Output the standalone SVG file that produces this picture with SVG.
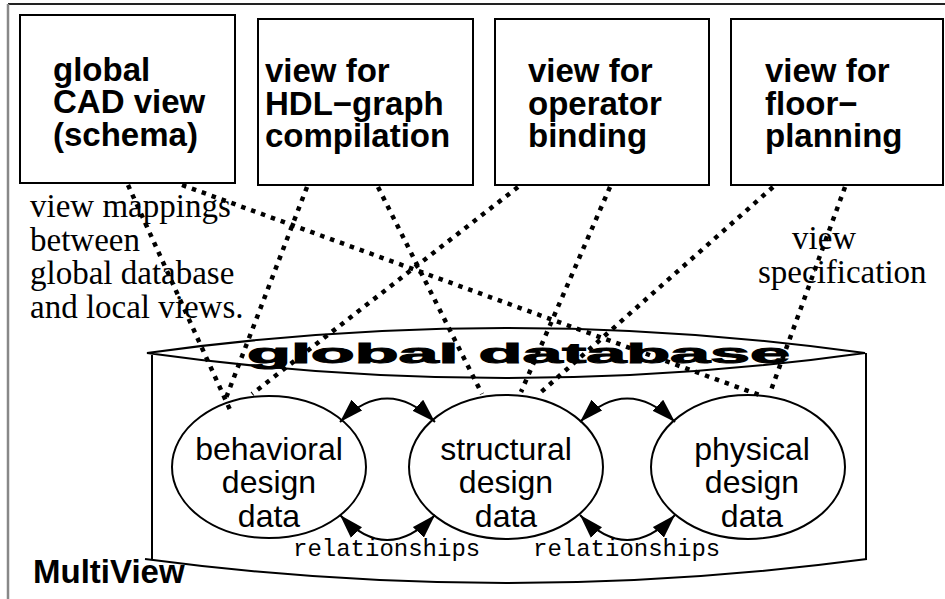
<svg xmlns="http://www.w3.org/2000/svg" width="945" height="599" viewBox="0 0 945 599">
<style>
.box{fill:#fff;stroke:#000;stroke-width:2}
.bt{font-family:"Liberation Sans",Arial,sans-serif;font-weight:bold;font-size:33px;fill:#000}
.et{font-family:"Liberation Sans",Arial,sans-serif;font-size:32px;fill:#000;text-anchor:middle}
.st{font-family:"Liberation Serif","Times New Roman",serif;font-size:33px;fill:#000}
.mt{font-family:"Liberation Mono","Courier New",monospace;font-size:24px;fill:#000}
.dot{fill:none;stroke:#000;stroke-width:4.5;stroke-dasharray:4.5 6}
.arc{fill:none;stroke:#000;stroke-width:2;marker-start:url(#ah);marker-end:url(#ah)}
.ell{fill:#fff;stroke:#000;stroke-width:2}
</style>
<defs>
<marker id="ah" markerUnits="userSpaceOnUse" markerWidth="24" markerHeight="16" viewBox="0 0 22 14" refX="22" refY="7" orient="auto-start-reverse"><path d="M0,0 L22,7 L0,14 Z" fill="#000"/></marker>
</defs>
<rect width="945" height="599" fill="#fff"/>
<g id="frame">
<line x1="8" y1="4" x2="945" y2="4" stroke="#222" stroke-width="2"/>
<line x1="8" y1="4" x2="8" y2="599" stroke="#888" stroke-width="2.5"/>
</g>
<g id="global-cad-view">
<rect class="box" x="20" y="15" width="215" height="168"/>
<text class="bt" x="53" y="81">global</text>
<text class="bt" x="53" y="113">CAD view</text>
<text class="bt" x="53" y="146">(schema)</text>
</g>
<g id="view-hdl">
<rect class="box" x="258" y="19" width="215" height="166"/>
<text class="bt" x="265" y="82">view for</text>
<text class="bt" x="265" y="115">HDL−graph</text>
<text class="bt" x="265" y="147">compilation</text>
</g>
<g id="view-operator">
<rect class="box" x="495" y="19" width="214" height="166"/>
<text class="bt" x="528" y="82">view for</text>
<text class="bt" x="528" y="115">operator</text>
<text class="bt" x="528" y="147">binding</text>
</g>
<g id="view-floor">
<rect class="box" x="731" y="19" width="212" height="166"/>
<text class="bt" x="765" y="82">view for</text>
<text class="bt" x="765" y="115">floor−</text>
<text class="bt" x="765" y="147">planning</text>
</g>
<g id="global-database">
<path d="M152,355 L152,559 M866,353 L866,560" fill="none" stroke="#000" stroke-width="2"/>
<path d="M145,559 Q506,607 867,559" fill="none" stroke="#000" stroke-width="2"/>
<path d="M147,353 Q506,303 865,353 Q506,403 147,353 Z" fill="#fff" stroke="#000" stroke-width="2"/>
<text x="247" y="363" font-family="'Liberation Sans',Arial,sans-serif" font-weight="bold" font-size="28" textLength="543" lengthAdjust="spacingAndGlyphs" stroke="#000" stroke-width="1">global database</text>
</g>
<g id="behavioral">
<ellipse class="ell" cx="269" cy="467" rx="97" ry="71"/>
<text class="et" x="269" y="460">behavioral</text>
<text class="et" x="269" y="493">design</text>
<text class="et" x="269" y="527">data</text>
</g>
<g id="structural">
<ellipse class="ell" cx="506" cy="467" rx="97" ry="72"/>
<text class="et" x="506" y="460">structural</text>
<text class="et" x="506" y="493">design</text>
<text class="et" x="506" y="527">data</text>
</g>
<g id="physical">
<ellipse class="ell" cx="748" cy="467" rx="97" ry="72"/>
<text class="et" x="752" y="460">physical</text>
<text class="et" x="752" y="493">design</text>
<text class="et" x="752" y="527">data</text>
</g>
<g id="labels">
<text class="st" x="30" y="217">view mappings</text>
<text class="st" x="30" y="251">between</text>
<text class="st" x="30" y="284">global database</text>
<text class="st" x="30" y="318">and local views.</text>
<text class="st" x="792" y="249">view</text>
<text class="st" x="758" y="283">specification</text>
<text class="mt" x="293" y="556">relationships</text>
<text class="mt" x="533" y="556">relationships</text>
<text class="bt" x="33" y="583" font-size="31">MultiView</text>
</g>
<g id="connectors">
<path class="arc" d="M340,422 Q387,375 435,422"/>
<path class="arc" d="M580,422 Q627,375 675,422"/>
<path class="arc" d="M340,515 Q387,565 435,515"/>
<path class="arc" d="M580,515 Q627,565 675,515"/>
<line class="dot" x1="128" y1="185" x2="231" y2="412"/>
<line class="dot" x1="182" y1="185" x2="762" y2="396"/>
<line class="dot" x1="307" y1="187" x2="226" y2="398"/>
<line class="dot" x1="378" y1="187" x2="482" y2="394"/>
<line class="dot" x1="518" y1="187" x2="252" y2="394"/>
<line class="dot" x1="610" y1="187" x2="521" y2="392"/>
<line class="dot" x1="773" y1="187" x2="540" y2="393"/>
<line class="dot" x1="845" y1="187" x2="770" y2="393"/>
</g>
</svg>
